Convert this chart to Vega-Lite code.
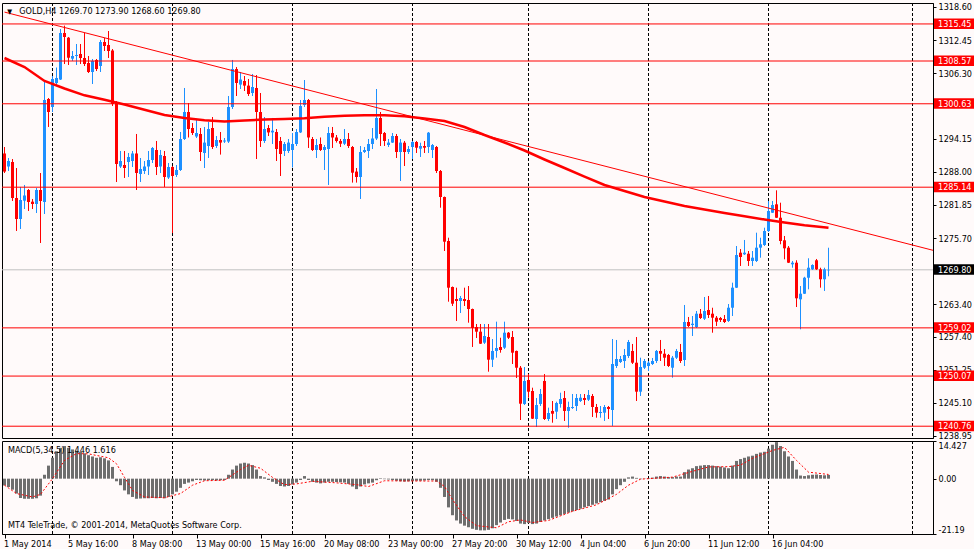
{
  "$schema": "https://vega.github.io/schema/vega-lite/v6.json",
  "background": "#fffafa",
  "padding": {"left": 1, "top": 2, "right": 0, "bottom": 0},
  "spacing": 3,
  "bounds": "flush",
  "config": {
    "view": {"stroke": "#000000", "strokeWidth": 1},
    "font": "DejaVu Sans Condensed, Liberation Sans, sans-serif",
    "axis": {"labelFont": "DejaVu Sans Condensed, Liberation Sans, sans-serif", "labelFontSize": 9, "labelColor": "#000000", "domainColor": "#000000", "tickColor": "#000000", "grid": false, "zindex": 1, "labelOverlap": false}
  },
  "datasets": {
    "candles": [
      {"i":0,"o":1291.40,"h":1292.60,"l":1287.77,"c":1288.04},
      {"i":1,"o":1288.98,"h":1290.56,"l":1288.15,"c":1290.00},
      {"i":2,"o":1289.82,"h":1290.37,"l":1282.58,"c":1283.13},
      {"i":3,"o":1283.13,"h":1288.70,"l":1277.01,"c":1279.23},
      {"i":4,"o":1279.23,"h":1285.18,"l":1277.38,"c":1282.76},
      {"i":5,"o":1282.63,"h":1285.55,"l":1281.09,"c":1283.60},
      {"i":6,"o":1284.62,"h":1284.80,"l":1280.72,"c":1282.39},
      {"i":7,"o":1282.45,"h":1282.95,"l":1281.09,"c":1282.02},
      {"i":8,"o":1282.02,"h":1284.99,"l":1280.35,"c":1284.62},
      {"i":9,"o":1284.62,"h":1287.77,"l":1274.78,"c":1282.58},
      {"i":10,"o":1282.39,"h":1304.86,"l":1280.16,"c":1301.33},
      {"i":11,"o":1301.51,"h":1301.70,"l":1296.32,"c":1299.10},
      {"i":12,"o":1300.03,"h":1305.78,"l":1299.10,"c":1305.23},
      {"i":13,"o":1304.49,"h":1307.36,"l":1304.11,"c":1305.41},
      {"i":14,"o":1305.13,"h":1314.51,"l":1305.04,"c":1313.77},
      {"i":15,"o":1313.77,"h":1315.14,"l":1308.01,"c":1313.03},
      {"i":16,"o":1312.90,"h":1313.03,"l":1307.83,"c":1309.18},
      {"i":17,"o":1309.00,"h":1310.43,"l":1308.57,"c":1309.50},
      {"i":18,"o":1309.50,"h":1311.73,"l":1307.83,"c":1309.68},
      {"i":19,"o":1309.87,"h":1311.73,"l":1308.01,"c":1309.13},
      {"i":20,"o":1309.13,"h":1313.77,"l":1307.64,"c":1308.01},
      {"i":21,"o":1308.20,"h":1309.50,"l":1306.34,"c":1306.53},
      {"i":22,"o":1306.53,"h":1308.94,"l":1304.30,"c":1308.57},
      {"i":23,"o":1308.76,"h":1308.94,"l":1306.71,"c":1307.08},
      {"i":24,"o":1307.64,"h":1312.47,"l":1306.53,"c":1312.10},
      {"i":25,"o":1312.10,"h":1312.84,"l":1310.43,"c":1311.36},
      {"i":26,"o":1311.54,"h":1314.14,"l":1309.13,"c":1310.43},
      {"i":27,"o":1310.52,"h":1310.80,"l":1300.21,"c":1300.59},
      {"i":28,"o":1300.77,"h":1301.14,"l":1286.10,"c":1289.45},
      {"i":29,"o":1288.98,"h":1291.86,"l":1288.70,"c":1290.00},
      {"i":30,"o":1289.26,"h":1291.86,"l":1286.85,"c":1288.70},
      {"i":31,"o":1289.82,"h":1291.49,"l":1287.03,"c":1290.75},
      {"i":32,"o":1290.00,"h":1291.86,"l":1288.89,"c":1291.40},
      {"i":33,"o":1291.40,"h":1295.02,"l":1284.62,"c":1287.77},
      {"i":34,"o":1287.59,"h":1290.56,"l":1286.10,"c":1288.52},
      {"i":35,"o":1288.15,"h":1290.00,"l":1287.59,"c":1288.98},
      {"i":36,"o":1288.98,"h":1291.86,"l":1287.40,"c":1290.19},
      {"i":37,"o":1290.19,"h":1292.60,"l":1289.63,"c":1292.42},
      {"i":38,"o":1292.05,"h":1293.72,"l":1287.40,"c":1288.89},
      {"i":39,"o":1288.98,"h":1292.05,"l":1287.77,"c":1291.12},
      {"i":40,"o":1290.93,"h":1291.86,"l":1285.18,"c":1287.03},
      {"i":41,"o":1286.94,"h":1289.63,"l":1286.66,"c":1288.89},
      {"i":42,"o":1288.89,"h":1289.07,"l":1276.63,"c":1287.22},
      {"i":43,"o":1287.40,"h":1289.26,"l":1287.03,"c":1288.33},
      {"i":44,"o":1288.33,"h":1295.39,"l":1288.15,"c":1294.09},
      {"i":45,"o":1294.09,"h":1303.56,"l":1293.90,"c":1299.10},
      {"i":46,"o":1299.10,"h":1300.77,"l":1294.37,"c":1295.94},
      {"i":47,"o":1296.13,"h":1297.06,"l":1294.83,"c":1295.20},
      {"i":48,"o":1294.55,"h":1297.80,"l":1294.27,"c":1295.20},
      {"i":49,"o":1295.02,"h":1296.13,"l":1290.00,"c":1291.67},
      {"i":50,"o":1291.49,"h":1296.32,"l":1288.70,"c":1293.42},
      {"i":51,"o":1292.79,"h":1297.24,"l":1290.56,"c":1295.94},
      {"i":52,"o":1296.13,"h":1298.17,"l":1292.23,"c":1292.60},
      {"i":53,"o":1292.79,"h":1294.64,"l":1292.42,"c":1293.90},
      {"i":54,"o":1293.90,"h":1295.39,"l":1291.19,"c":1293.42},
      {"i":55,"o":1293.62,"h":1294.27,"l":1293.35,"c":1293.81},
      {"i":56,"o":1293.61,"h":1302.07,"l":1293.35,"c":1300.03},
      {"i":57,"o":1300.03,"h":1308.76,"l":1299.66,"c":1307.08},
      {"i":58,"o":1307.08,"h":1307.45,"l":1302.07,"c":1304.49},
      {"i":59,"o":1304.19,"h":1306.53,"l":1303.37,"c":1305.13},
      {"i":60,"o":1304.86,"h":1305.78,"l":1303.00,"c":1304.00},
      {"i":61,"o":1304.00,"h":1305.23,"l":1302.07,"c":1302.44},
      {"i":62,"o":1302.63,"h":1306.16,"l":1302.07,"c":1303.74},
      {"i":63,"o":1303.56,"h":1305.97,"l":1290.37,"c":1299.10},
      {"i":64,"o":1299.10,"h":1302.63,"l":1292.60,"c":1293.72},
      {"i":65,"o":1293.72,"h":1298.17,"l":1293.35,"c":1295.94},
      {"i":66,"o":1296.13,"h":1296.69,"l":1294.64,"c":1295.31},
      {"i":67,"o":1295.31,"h":1297.99,"l":1293.16,"c":1295.63},
      {"i":68,"o":1295.39,"h":1295.94,"l":1290.00,"c":1292.23},
      {"i":69,"o":1293.72,"h":1294.46,"l":1287.22,"c":1291.30},
      {"i":70,"o":1291.86,"h":1293.53,"l":1290.93,"c":1293.16},
      {"i":71,"o":1291.86,"h":1294.09,"l":1291.49,"c":1293.42},
      {"i":72,"o":1292.05,"h":1295.20,"l":1288.80,"c":1293.16},
      {"i":73,"o":1293.16,"h":1295.94,"l":1292.79,"c":1295.39},
      {"i":74,"o":1295.31,"h":1301.33,"l":1295.20,"c":1300.21},
      {"i":75,"o":1300.40,"h":1305.04,"l":1300.03,"c":1301.33},
      {"i":76,"o":1301.33,"h":1301.51,"l":1292.42,"c":1294.37},
      {"i":77,"o":1294.09,"h":1294.46,"l":1291.86,"c":1292.05},
      {"i":78,"o":1292.05,"h":1294.09,"l":1290.56,"c":1292.97},
      {"i":79,"o":1293.16,"h":1294.37,"l":1291.86,"c":1292.05},
      {"i":80,"o":1292.05,"h":1292.97,"l":1288.33,"c":1292.60},
      {"i":81,"o":1292.23,"h":1296.32,"l":1285.55,"c":1295.20},
      {"i":82,"o":1295.20,"h":1296.32,"l":1292.42,"c":1294.37},
      {"i":83,"o":1294.37,"h":1294.83,"l":1293.42,"c":1293.72},
      {"i":84,"o":1293.72,"h":1294.09,"l":1292.60,"c":1293.21},
      {"i":85,"o":1293.21,"h":1295.94,"l":1292.97,"c":1294.09},
      {"i":86,"o":1294.09,"h":1295.20,"l":1292.42,"c":1292.79},
      {"i":87,"o":1292.60,"h":1292.79,"l":1285.99,"c":1287.83},
      {"i":88,"o":1288.04,"h":1288.70,"l":1285.99,"c":1287.03},
      {"i":89,"o":1287.03,"h":1292.79,"l":1282.95,"c":1291.67},
      {"i":90,"o":1291.67,"h":1292.60,"l":1291.49,"c":1292.05},
      {"i":91,"o":1291.86,"h":1294.09,"l":1290.56,"c":1293.16},
      {"i":92,"o":1293.16,"h":1296.13,"l":1292.23,"c":1294.18},
      {"i":93,"o":1294.18,"h":1303.37,"l":1293.90,"c":1297.99},
      {"i":94,"o":1297.99,"h":1299.10,"l":1292.79,"c":1295.02},
      {"i":95,"o":1295.20,"h":1295.39,"l":1292.79,"c":1293.72},
      {"i":96,"o":1292.97,"h":1294.09,"l":1292.60,"c":1293.42},
      {"i":97,"o":1293.42,"h":1295.20,"l":1293.35,"c":1294.64},
      {"i":98,"o":1294.64,"h":1295.02,"l":1290.56,"c":1291.67},
      {"i":99,"o":1291.67,"h":1294.09,"l":1286.29,"c":1293.42},
      {"i":100,"o":1293.40,"h":1293.72,"l":1289.07,"c":1291.67},
      {"i":101,"o":1291.67,"h":1292.79,"l":1291.30,"c":1292.23},
      {"i":102,"o":1292.60,"h":1293.72,"l":1290.37,"c":1293.53},
      {"i":103,"o":1293.53,"h":1293.72,"l":1291.49,"c":1292.47},
      {"i":104,"o":1292.29,"h":1293.40,"l":1290.75,"c":1292.79},
      {"i":105,"o":1292.79,"h":1293.72,"l":1291.49,"c":1292.47},
      {"i":106,"o":1292.60,"h":1295.39,"l":1291.49,"c":1295.26},
      {"i":107,"o":1292.05,"h":1293.16,"l":1290.56,"c":1292.97},
      {"i":108,"o":1292.60,"h":1292.79,"l":1287.77,"c":1288.15},
      {"i":109,"o":1288.15,"h":1288.33,"l":1281.33,"c":1283.32},
      {"i":110,"o":1283.32,"h":1283.40,"l":1273.29,"c":1275.02},
      {"i":111,"o":1275.15,"h":1275.76,"l":1263.88,"c":1266.48},
      {"i":112,"o":1266.61,"h":1266.70,"l":1263.08,"c":1263.51},
      {"i":113,"o":1264.38,"h":1266.48,"l":1260.30,"c":1264.01},
      {"i":114,"o":1264.01,"h":1264.94,"l":1261.78,"c":1264.57},
      {"i":115,"o":1264.38,"h":1266.48,"l":1263.08,"c":1264.01},
      {"i":116,"o":1264.19,"h":1266.79,"l":1259.98,"c":1262.52},
      {"i":117,"o":1262.52,"h":1262.60,"l":1255.47,"c":1259.00},
      {"i":118,"o":1259.18,"h":1259.74,"l":1257.14,"c":1258.31},
      {"i":119,"o":1258.31,"h":1259.74,"l":1256.03,"c":1256.08},
      {"i":120,"o":1256.27,"h":1259.74,"l":1256.03,"c":1257.51},
      {"i":121,"o":1257.32,"h":1259.74,"l":1250.88,"c":1253.11},
      {"i":122,"o":1253.11,"h":1256.95,"l":1251.75,"c":1254.73},
      {"i":123,"o":1254.73,"h":1260.17,"l":1253.48,"c":1255.28},
      {"i":124,"o":1255.47,"h":1257.19,"l":1254.41,"c":1254.91},
      {"i":125,"o":1255.34,"h":1260.17,"l":1255.10,"c":1258.12},
      {"i":126,"o":1258.12,"h":1258.25,"l":1256.95,"c":1257.19},
      {"i":127,"o":1257.32,"h":1258.44,"l":1252.31,"c":1254.41},
      {"i":128,"o":1254.73,"h":1254.80,"l":1249.71,"c":1251.62},
      {"i":129,"o":1251.62,"h":1251.94,"l":1241.91,"c":1244.94},
      {"i":130,"o":1244.89,"h":1251.75,"l":1244.70,"c":1249.16},
      {"i":131,"o":1249.34,"h":1250.45,"l":1246.05,"c":1247.17},
      {"i":132,"o":1247.30,"h":1247.91,"l":1242.10,"c":1242.16},
      {"i":133,"o":1242.10,"h":1246.00,"l":1240.61,"c":1244.70},
      {"i":134,"o":1244.89,"h":1247.67,"l":1244.51,"c":1246.74},
      {"i":135,"o":1249.16,"h":1250.45,"l":1241.91,"c":1242.10},
      {"i":136,"o":1242.10,"h":1244.20,"l":1241.73,"c":1243.21},
      {"i":137,"o":1243.59,"h":1245.44,"l":1241.41,"c":1243.08},
      {"i":138,"o":1243.46,"h":1245.31,"l":1242.10,"c":1245.07},
      {"i":139,"o":1244.89,"h":1246.98,"l":1244.20,"c":1245.81},
      {"i":140,"o":1246.00,"h":1247.30,"l":1241.73,"c":1243.59},
      {"i":141,"o":1243.59,"h":1245.31,"l":1240.48,"c":1244.33},
      {"i":142,"o":1244.14,"h":1246.74,"l":1243.96,"c":1244.33},
      {"i":143,"o":1244.51,"h":1246.74,"l":1243.59,"c":1246.00},
      {"i":144,"o":1245.44,"h":1246.74,"l":1245.26,"c":1246.05},
      {"i":145,"o":1246.00,"h":1246.74,"l":1244.70,"c":1245.63},
      {"i":146,"o":1245.68,"h":1247.48,"l":1245.44,"c":1246.56},
      {"i":147,"o":1246.37,"h":1246.74,"l":1242.47,"c":1244.33},
      {"i":148,"o":1244.33,"h":1244.89,"l":1242.34,"c":1243.27},
      {"i":149,"o":1243.21,"h":1244.51,"l":1242.34,"c":1243.40},
      {"i":150,"o":1243.27,"h":1244.70,"l":1241.73,"c":1244.33},
      {"i":151,"o":1244.33,"h":1244.51,"l":1242.10,"c":1243.96},
      {"i":152,"o":1243.77,"h":1256.95,"l":1240.80,"c":1252.31},
      {"i":153,"o":1251.94,"h":1256.77,"l":1251.57,"c":1253.24},
      {"i":154,"o":1252.68,"h":1253.80,"l":1252.50,"c":1253.24},
      {"i":155,"o":1252.87,"h":1255.10,"l":1251.57,"c":1253.98},
      {"i":156,"o":1253.80,"h":1256.77,"l":1253.43,"c":1256.40},
      {"i":157,"o":1254.73,"h":1256.03,"l":1252.31,"c":1252.55},
      {"i":158,"o":1252.55,"h":1257.32,"l":1245.44,"c":1247.17},
      {"i":159,"o":1247.17,"h":1253.48,"l":1246.37,"c":1251.75},
      {"i":160,"o":1251.62,"h":1253.24,"l":1251.38,"c":1252.87},
      {"i":161,"o":1251.94,"h":1252.87,"l":1251.01,"c":1252.55},
      {"i":162,"o":1252.31,"h":1253.43,"l":1252.13,"c":1252.87},
      {"i":163,"o":1252.87,"h":1254.91,"l":1252.50,"c":1254.73},
      {"i":164,"o":1254.73,"h":1256.77,"l":1252.87,"c":1254.22},
      {"i":165,"o":1254.22,"h":1255.10,"l":1251.94,"c":1253.48},
      {"i":166,"o":1253.98,"h":1254.17,"l":1251.75,"c":1251.94},
      {"i":167,"o":1251.62,"h":1253.80,"l":1249.77,"c":1253.48},
      {"i":168,"o":1253.48,"h":1255.10,"l":1253.24,"c":1254.73},
      {"i":169,"o":1254.54,"h":1256.03,"l":1252.50,"c":1252.87},
      {"i":170,"o":1253.05,"h":1263.27,"l":1251.94,"c":1260.11},
      {"i":171,"o":1260.11,"h":1261.04,"l":1259.18,"c":1259.37},
      {"i":172,"o":1259.55,"h":1261.22,"l":1257.51,"c":1259.79},
      {"i":173,"o":1259.18,"h":1262.15,"l":1259.00,"c":1261.65},
      {"i":174,"o":1261.65,"h":1262.52,"l":1260.67,"c":1260.85},
      {"i":175,"o":1260.72,"h":1264.75,"l":1260.48,"c":1262.15},
      {"i":176,"o":1262.34,"h":1264.94,"l":1260.85,"c":1261.41},
      {"i":177,"o":1261.65,"h":1262.76,"l":1258.12,"c":1260.91},
      {"i":178,"o":1260.91,"h":1261.22,"l":1259.37,"c":1260.17},
      {"i":179,"o":1260.85,"h":1261.04,"l":1260.11,"c":1260.48},
      {"i":180,"o":1260.67,"h":1261.41,"l":1259.92,"c":1260.11},
      {"i":181,"o":1260.30,"h":1263.45,"l":1260.11,"c":1262.76},
      {"i":182,"o":1262.76,"h":1267.41,"l":1261.22,"c":1266.48},
      {"i":183,"o":1266.48,"h":1274.22,"l":1266.42,"c":1272.55},
      {"i":184,"o":1272.98,"h":1273.66,"l":1270.51,"c":1272.18},
      {"i":185,"o":1272.68,"h":1275.34,"l":1272.55,"c":1272.98},
      {"i":186,"o":1272.79,"h":1273.29,"l":1270.51,"c":1271.44},
      {"i":187,"o":1271.44,"h":1273.29,"l":1270.51,"c":1272.05},
      {"i":188,"o":1271.44,"h":1276.69,"l":1271.25,"c":1273.91},
      {"i":189,"o":1273.91,"h":1275.76,"l":1272.05,"c":1274.54},
      {"i":190,"o":1274.41,"h":1277.62,"l":1274.22,"c":1277.01},
      {"i":191,"o":1277.01,"h":1282.58,"l":1276.82,"c":1280.72},
      {"i":192,"o":1280.40,"h":1282.58,"l":1280.35,"c":1281.83},
      {"i":193,"o":1281.96,"h":1284.56,"l":1279.42,"c":1279.47},
      {"i":194,"o":1279.47,"h":1282.26,"l":1274.54,"c":1275.15},
      {"i":195,"o":1275.28,"h":1276.08,"l":1271.75,"c":1273.79},
      {"i":196,"o":1273.91,"h":1274.22,"l":1271.06,"c":1271.12},
      {"i":197,"o":1270.82,"h":1271.44,"l":1270.19,"c":1271.12},
      {"i":198,"o":1271.12,"h":1271.57,"l":1262.89,"c":1264.51},
      {"i":199,"o":1264.32,"h":1266.79,"l":1258.75,"c":1265.36},
      {"i":200,"o":1265.36,"h":1268.50,"l":1265.31,"c":1268.33},
      {"i":201,"o":1268.33,"h":1271.94,"l":1266.18,"c":1270.19},
      {"i":202,"o":1269.89,"h":1270.82,"l":1269.77,"c":1270.69},
      {"i":203,"o":1271.57,"h":1271.81,"l":1269.77,"c":1269.89},
      {"i":204,"o":1269.89,"h":1270.19,"l":1266.48,"c":1268.04},
      {"i":205,"o":1268.04,"h":1270.19,"l":1265.87,"c":1269.89},
      {"i":206,"o":1269.70,"h":1273.90,"l":1268.60,"c":1269.80}
    ],
    "ma": [
      {"i":0,"v":1309.13},{"i":5,"v":1307.45},{"i":10,"v":1304.86},{"i":15,"v":1303.46},
      {"i":20,"v":1302.20},{"i":25,"v":1301.38},{"i":30,"v":1300.49},{"i":35,"v":1299.53},
      {"i":40,"v":1298.54},{"i":45,"v":1297.99},{"i":50,"v":1297.58},{"i":55,"v":1297.34},
      {"i":60,"v":1297.52},{"i":65,"v":1297.71},{"i":70,"v":1297.80},{"i":75,"v":1297.93},
      {"i":80,"v":1298.23},{"i":85,"v":1298.39},{"i":90,"v":1298.49},{"i":95,"v":1298.49},
      {"i":100,"v":1298.30},{"i":105,"v":1297.89},{"i":110,"v":1297.43},{"i":115,"v":1296.32},
      {"i":120,"v":1294.83},{"i":125,"v":1293.44},{"i":130,"v":1291.95},{"i":135,"v":1290.28},
      {"i":140,"v":1288.70},{"i":145,"v":1287.12},{"i":150,"v":1285.55},{"i":155,"v":1284.43},
      {"i":160,"v":1283.32},{"i":165,"v":1282.48},{"i":170,"v":1281.65},{"i":175,"v":1281.00},
      {"i":180,"v":1280.35},{"i":185,"v":1279.74},{"i":190,"v":1279.14},{"i":195,"v":1278.58},
      {"i":200,"v":1278.07},{"i":206,"v":1277.62}
    ],
    "trend": [{"i":0,"v":1317.65},{"i":232.125,"v":1273.42}],
    "levels": [{"p":1315.45},{"p":1308.57},{"p":1300.63},{"p":1285.14},{"p":1259.02},{"p":1250.07},{"p":1240.76}],
    "last": [{"p":1269.80}],
    "seps": [{"i":12},{"i":42},{"i":72},{"i":102},{"i":131},{"i":161},{"i":191},{"i":227}],
    "macd": [
      {"i":0,"m":-2.6},{"i":1,"m":-3.2},{"i":2,"m":-4.2},{"i":3,"m":-5.7},{"i":4,"m":-7.4},{"i":5,"m":-7.7},{"i":6,"m":-7.7},{"i":7,"m":-7.7},{"i":8,"m":-7.5},{"i":9,"m":-6.5},
      {"i":10,"m":1.5},{"i":11,"m":5.0},{"i":12,"m":8.0},{"i":13,"m":10.5},{"i":14,"m":11.8},{"i":15,"m":12.5},{"i":16,"m":11.8},{"i":17,"m":11.2},{"i":18,"m":10.7},{"i":19,"m":10.2},
      {"i":20,"m":9.7},{"i":21,"m":9.0},{"i":22,"m":8.5},{"i":23,"m":8.0},{"i":24,"m":8.2},{"i":25,"m":7.8},{"i":26,"m":7.0},{"i":27,"m":4.5},{"i":28,"m":-1.0},{"i":29,"m":-2.5},
      {"i":30,"m":-4.5},{"i":31,"m":-6.0},{"i":32,"m":-7.0},{"i":33,"m":-7.7},{"i":34,"m":-7.6},{"i":35,"m":-7.5},{"i":36,"m":-7.5},{"i":37,"m":-7.4},{"i":38,"m":-7.5},{"i":39,"m":-7.4},
      {"i":40,"m":-7.5},{"i":41,"m":-7.0},{"i":42,"m":-6.0},{"i":43,"m":-5.0},{"i":44,"m":-3.5},{"i":45,"m":-2.0},{"i":46,"m":-1.5},{"i":47,"m":-1.0},{"i":48,"m":-0.5},{"i":49,"m":-0.6},
      {"i":50,"m":-0.7},{"i":51,"m":-0.6},{"i":52,"m":-0.6},{"i":53,"m":-0.7},{"i":54,"m":-0.6},{"i":55,"m":-0.5},{"i":56,"m":1.5},{"i":57,"m":3.5},{"i":58,"m":5.0},{"i":59,"m":5.8},
      {"i":60,"m":6.1},{"i":61,"m":5.8},{"i":62,"m":5.2},{"i":63,"m":3.5},{"i":64,"m":1.0},{"i":65,"m":0.5},{"i":66,"m":-0.5},{"i":67,"m":-1.2},{"i":68,"m":-2.0},{"i":69,"m":-2.8},
      {"i":70,"m":-3.0},{"i":71,"m":-2.8},{"i":72,"m":-2.2},{"i":73,"m":-1.5},{"i":74,"m":-0.5},{"i":75,"m":1.0},{"i":76,"m":-0.5},{"i":77,"m":-1.2},{"i":78,"m":-1.5},{"i":79,"m":-1.8},
      {"i":80,"m":-1.5},{"i":81,"m":-1.2},{"i":82,"m":-1.2},{"i":83,"m":-1.3},{"i":84,"m":-1.4},{"i":85,"m":-1.5},{"i":86,"m":-2.0},{"i":87,"m":-3.0},{"i":88,"m":-4.0},{"i":89,"m":-3.0},
      {"i":90,"m":-2.2},{"i":91,"m":-1.8},{"i":92,"m":-1.5},{"i":93,"m":-0.6},{"i":94,"m":0.2},{"i":95,"m":-0.2},{"i":96,"m":-0.3},{"i":97,"m":-0.5},{"i":98,"m":-0.8},{"i":99,"m":-1.0},
      {"i":100,"m":-1.1},{"i":101,"m":-1.0},{"i":102,"m":-0.9},{"i":103,"m":-0.8},{"i":104,"m":-0.8},{"i":105,"m":-0.7},{"i":106,"m":-0.5},{"i":107,"m":-0.6},{"i":108,"m":-1.2},{"i":109,"m":-3.5},
      {"i":110,"m":-7.0},{"i":111,"m":-11.0},{"i":112,"m":-14.0},{"i":113,"m":-16.0},{"i":114,"m":-17.2},{"i":115,"m":-18.0},{"i":116,"m":-18.6},{"i":117,"m":-19.2},{"i":118,"m":-19.6},{"i":119,"m":-19.8},
      {"i":120,"m":-19.8},{"i":121,"m":-19.6},{"i":122,"m":-19.0},{"i":123,"m":-17.8},{"i":124,"m":-16.8},{"i":125,"m":-15.8},{"i":126,"m":-15.4},{"i":127,"m":-15.6},{"i":128,"m":-16.2},{"i":129,"m":-17.2},
      {"i":130,"m":-17.4},{"i":131,"m":-17.0},{"i":132,"m":-17.4},{"i":133,"m":-17.2},{"i":134,"m":-16.6},{"i":135,"m":-16.0},{"i":136,"m":-15.5},{"i":137,"m":-15.0},{"i":138,"m":-14.5},{"i":139,"m":-14.0},
      {"i":140,"m":-13.5},{"i":141,"m":-13.0},{"i":142,"m":-12.5},{"i":143,"m":-12.0},{"i":144,"m":-11.5},{"i":145,"m":-11.0},{"i":146,"m":-10.5},{"i":147,"m":-10.0},{"i":148,"m":-9.5},{"i":149,"m":-9.0},
      {"i":150,"m":-8.5},{"i":151,"m":-8.0},{"i":152,"m":-6.0},{"i":153,"m":-4.0},{"i":154,"m":-2.5},{"i":155,"m":-1.2},{"i":156,"m":0.5},{"i":157,"m":0.8},{"i":158,"m":0.3},{"i":159,"m":-0.2},
      {"i":160,"m":0.1},{"i":161,"m":0.2},{"i":162,"m":0.4},{"i":163,"m":0.8},{"i":164,"m":1.0},{"i":165,"m":0.8},{"i":166,"m":0.6},{"i":167,"m":0.6},{"i":168,"m":0.8},{"i":169,"m":0.8},
      {"i":170,"m":2.5},{"i":171,"m":3.5},{"i":172,"m":4.0},{"i":173,"m":4.8},{"i":174,"m":5.0},{"i":175,"m":5.2},{"i":176,"m":5.2},{"i":177,"m":5.0},{"i":178,"m":4.8},{"i":179,"m":4.6},
      {"i":180,"m":4.3},{"i":181,"m":4.0},{"i":182,"m":5.0},{"i":183,"m":6.8},{"i":184,"m":7.5},{"i":185,"m":8.0},{"i":186,"m":8.5},{"i":187,"m":8.8},{"i":188,"m":9.5},{"i":189,"m":10.0},
      {"i":190,"m":10.3},{"i":191,"m":11.5},{"i":192,"m":13.0},{"i":193,"m":14.0},{"i":194,"m":12.5},{"i":195,"m":10.5},{"i":196,"m":8.5},{"i":197,"m":6.8},{"i":198,"m":3.5},{"i":199,"m":1.2},
      {"i":200,"m":1.0},{"i":201,"m":1.3},{"i":202,"m":1.5},{"i":203,"m":1.6},{"i":204,"m":1.4},{"i":205,"m":1.3},{"i":206,"m":1.446}
    ],
    "signal": [
      {"i":0,"s":-2.5},{"i":3,"s":-5.7},{"i":7,"s":-7.0},{"i":9,"s":-6.0},{"i":12,"s":0.0},{"i":15,"s":7.0},
      {"i":18,"s":9.6},{"i":21,"s":9.5},{"i":26,"s":8.0},{"i":28,"s":5.7},{"i":30,"s":0.5},{"i":32,"s":-4.5},
      {"i":35,"s":-7.0},{"i":40,"s":-7.3},{"i":44,"s":-5.7},{"i":47,"s":-2.5},{"i":50,"s":-0.8},{"i":55,"s":-0.6},
      {"i":59,"s":3.5},{"i":61,"s":5.1},{"i":64,"s":4.0},{"i":67,"s":0.5},{"i":70,"s":-2.3},{"i":73,"s":-2.0},
      {"i":77,"s":-1.0},{"i":83,"s":-1.6},{"i":88,"s":-2.3},{"i":91,"s":-3.0},{"i":95,"s":-0.8},{"i":101,"s":-0.9},
      {"i":108,"s":-0.9},{"i":110,"s":-3.0},{"i":112,"s":-8.0},{"i":115,"s":-14.5},{"i":118,"s":-18.0},{"i":123,"s":-18.8},
      {"i":126,"s":-16.5},{"i":129,"s":-15.8},{"i":132,"s":-16.8},{"i":136,"s":-16.0},{"i":142,"s":-12.5},{"i":148,"s":-10.0},
      {"i":153,"s":-6.0},{"i":156,"s":-2.5},{"i":159,"s":-0.2},{"i":167,"s":0.6},{"i":172,"s":2.8},{"i":176,"s":4.5},
      {"i":181,"s":4.6},{"i":184,"s":5.2},{"i":187,"s":7.8},{"i":192,"s":10.8},{"i":195,"s":12.0},{"i":198,"s":7.0},
      {"i":201,"s":2.5},{"i":206,"s":1.616}
    ]
  },
  "vconcat": [
    {
      "width": 931,
      "height": 435,
      "layer": [
        {
          "data": {"name": "seps"},
          "mark": {"type": "rule", "color": "#000000", "strokeWidth": 1, "strokeDash": [3, 2]},
          "encoding": {
            "x": {"field": "i", "type": "quantitative", "scale": {"domain": [-0.625, 232.125], "nice": false, "zero": false, "padding": 0}, "axis": null}
          }
        },
        {
          "data": {"name": "last"},
          "mark": {"type": "rule", "color": "#c0c0c0", "strokeWidth": 1},
          "encoding": {
            "y": {"field": "p", "type": "quantitative", "scale": {"domain": [1238.57, 1319.34], "nice": false, "zero": false},
              "axis": {"orient": "right", "title": null, "values": [1318.6, 1312.45, 1306.3, 1294.15, 1288, 1281.85, 1275.7, 1263.4, 1257.4, 1251.25, 1245.1, 1238.95], "format": ".2f", "tickSize": 3, "labelPadding": 2, "labelOverlap": false, "labelFlush": false, "labelBound": false}}
          }
        },
        {
          "data": {"name": "candles"},
          "mark": {"type": "rule", "strokeWidth": 1},
          "encoding": {
            "x": {"field": "i", "type": "quantitative", "scale": {"domain": [-0.625, 232.125], "nice": false, "zero": false, "padding": 0}, "axis": null},
            "y": {"field": "l", "type": "quantitative", "scale": {"domain": [1238.57, 1319.34], "nice": false, "zero": false},
              "axis": {"orient": "right", "title": null, "values": [1318.6, 1312.45, 1306.3, 1294.15, 1288, 1281.85, 1275.7, 1263.4, 1257.4, 1251.25, 1245.1, 1238.95], "format": ".2f", "tickSize": 3, "labelPadding": 2, "labelOverlap": false, "labelFlush": false, "labelBound": false}},
            "y2": {"field": "h"},
            "color": {"condition": {"test": "datum.c >= datum.o", "value": "#1e90ff"}, "value": "#ff0000"}
          }
        },
        {
          "data": {"name": "candles"},
          "mark": {"type": "bar", "size": 3},
          "encoding": {
            "x": {"field": "i", "type": "quantitative", "scale": {"domain": [-0.625, 232.125], "nice": false, "zero": false, "padding": 0}, "axis": null},
            "y": {"field": "o", "type": "quantitative", "scale": {"domain": [1238.57, 1319.34], "nice": false, "zero": false},
              "axis": {"orient": "right", "title": null, "values": [1318.6, 1312.45, 1306.3, 1294.15, 1288, 1281.85, 1275.7, 1263.4, 1257.4, 1251.25, 1245.1, 1238.95], "format": ".2f", "tickSize": 3, "labelPadding": 2, "labelOverlap": false, "labelFlush": false, "labelBound": false}},
            "y2": {"field": "c"},
            "color": {"condition": {"test": "datum.c >= datum.o", "value": "#1e90ff"}, "value": "#ff0000"}
          }
        },
        {
          "data": {"name": "ma"},
          "mark": {"type": "line", "color": "#ff0000", "strokeWidth": 2.5, "clip": true},
          "encoding": {
            "x": {"field": "i", "type": "quantitative", "scale": {"domain": [-0.625, 232.125], "nice": false, "zero": false, "padding": 0}, "axis": null},
            "y": {"field": "v", "type": "quantitative", "scale": {"domain": [1238.57, 1319.34], "nice": false, "zero": false},
              "axis": {"orient": "right", "title": null, "values": [1318.6, 1312.45, 1306.3, 1294.15, 1288, 1281.85, 1275.7, 1263.4, 1257.4, 1251.25, 1245.1, 1238.95], "format": ".2f", "tickSize": 3, "labelPadding": 2, "labelOverlap": false, "labelFlush": false, "labelBound": false}}
          }
        },
        {
          "data": {"name": "levels"},
          "mark": {"type": "rule", "color": "#ff0000", "strokeWidth": 1},
          "encoding": {
            "y": {"field": "p", "type": "quantitative", "scale": {"domain": [1238.57, 1319.34], "nice": false, "zero": false},
              "axis": {"orient": "right", "title": null, "values": [1318.6, 1312.45, 1306.3, 1294.15, 1288, 1281.85, 1275.7, 1263.4, 1257.4, 1251.25, 1245.1, 1238.95], "format": ".2f", "tickSize": 3, "labelPadding": 2, "labelOverlap": false, "labelFlush": false, "labelBound": false}}
          }
        },
        {
          "data": {"name": "trend"},
          "mark": {"type": "line", "color": "#ff0000", "strokeWidth": 1, "clip": true},
          "encoding": {
            "x": {"field": "i", "type": "quantitative", "scale": {"domain": [-0.625, 232.125], "nice": false, "zero": false, "padding": 0}, "axis": null},
            "y": {"field": "v", "type": "quantitative", "scale": {"domain": [1238.57, 1319.34], "nice": false, "zero": false},
              "axis": {"orient": "right", "title": null, "values": [1318.6, 1312.45, 1306.3, 1294.15, 1288, 1281.85, 1275.7, 1263.4, 1257.4, 1251.25, 1245.1, 1238.95], "format": ".2f", "tickSize": 3, "labelPadding": 2, "labelOverlap": false, "labelFlush": false, "labelBound": false}}
          }
        },
        {
          "data": {"name": "levels"},
          "mark": {"type": "rect", "color": "#ff0000", "yOffset": -5.5, "y2Offset": 5},
          "encoding": {
            "x": {"datum": 232.375, "type": "quantitative", "scale": {"domain": [-0.625, 232.125], "nice": false, "zero": false, "padding": 0}, "axis": null},
            "x2": {"datum": 242.75},
            "y": {"field": "p", "type": "quantitative", "scale": {"domain": [1238.57, 1319.34], "nice": false, "zero": false},
              "axis": {"orient": "right", "title": null, "values": [1318.6, 1312.45, 1306.3, 1294.15, 1288, 1281.85, 1275.7, 1263.4, 1257.4, 1251.25, 1245.1, 1238.95], "format": ".2f", "tickSize": 3, "labelPadding": 2, "labelOverlap": false, "labelFlush": false, "labelBound": false}},
            "y2": {"field": "p"}
          }
        },
        {
          "data": {"name": "last"},
          "mark": {"type": "rect", "color": "#000000", "yOffset": -5.5, "y2Offset": 5},
          "encoding": {
            "x": {"datum": 232.375, "type": "quantitative", "scale": {"domain": [-0.625, 232.125], "nice": false, "zero": false, "padding": 0}, "axis": null},
            "x2": {"datum": 242.75},
            "y": {"field": "p", "type": "quantitative", "scale": {"domain": [1238.57, 1319.34], "nice": false, "zero": false},
              "axis": {"orient": "right", "title": null, "values": [1318.6, 1312.45, 1306.3, 1294.15, 1288, 1281.85, 1275.7, 1263.4, 1257.4, 1251.25, 1245.1, 1238.95], "format": ".2f", "tickSize": 3, "labelPadding": 2, "labelOverlap": false, "labelFlush": false, "labelBound": false}},
            "y2": {"field": "p"}
          }
        },
        {
          "data": {"name": "levels"},
          "mark": {"type": "text", "color": "#ffffff", "align": "left", "baseline": "middle", "fontSize": 9},
          "encoding": {
            "x": {"datum": 233.375, "type": "quantitative", "scale": {"domain": [-0.625, 232.125], "nice": false, "zero": false, "padding": 0}, "axis": null},
            "y": {"field": "p", "type": "quantitative", "scale": {"domain": [1238.57, 1319.34], "nice": false, "zero": false},
              "axis": {"orient": "right", "title": null, "values": [1318.6, 1312.45, 1306.3, 1294.15, 1288, 1281.85, 1275.7, 1263.4, 1257.4, 1251.25, 1245.1, 1238.95], "format": ".2f", "tickSize": 3, "labelPadding": 2, "labelOverlap": false, "labelFlush": false, "labelBound": false}},
            "text": {"field": "p", "type": "quantitative", "format": ".2f"}
          }
        },
        {
          "data": {"name": "last"},
          "mark": {"type": "text", "color": "#ffffff", "align": "left", "baseline": "middle", "fontSize": 9},
          "encoding": {
            "x": {"datum": 233.375, "type": "quantitative", "scale": {"domain": [-0.625, 232.125], "nice": false, "zero": false, "padding": 0}, "axis": null},
            "y": {"field": "p", "type": "quantitative", "scale": {"domain": [1238.57, 1319.34], "nice": false, "zero": false},
              "axis": {"orient": "right", "title": null, "values": [1318.6, 1312.45, 1306.3, 1294.15, 1288, 1281.85, 1275.7, 1263.4, 1257.4, 1251.25, 1245.1, 1238.95], "format": ".2f", "tickSize": 3, "labelPadding": 2, "labelOverlap": false, "labelFlush": false, "labelBound": false}},
            "text": {"field": "p", "type": "quantitative", "format": ".2f"}
          }
        },
        {
          "data": {"values": [{"t": "▼", "i": 1.3, "p": 1317.6}]},
          "mark": {"type": "text", "color": "#000000", "align": "center", "baseline": "middle", "fontSize": 7},
          "encoding": {
            "x": {"field": "i", "type": "quantitative", "scale": {"domain": [-0.625, 232.125], "nice": false, "zero": false, "padding": 0}, "axis": null},
            "y": {"field": "p", "type": "quantitative", "scale": {"domain": [1238.57, 1319.34], "nice": false, "zero": false},
              "axis": {"orient": "right", "title": null, "values": [1318.6, 1312.45, 1306.3, 1294.15, 1288, 1281.85, 1275.7, 1263.4, 1257.4, 1251.25, 1245.1, 1238.95], "format": ".2f", "tickSize": 3, "labelPadding": 2, "labelOverlap": false, "labelFlush": false, "labelBound": false}},
            "text": {"field": "t"}
          }
        },
        {
          "data": {"values": [{"t": "GOLD,H4  1269.70 1273.90 1268.60 1269.80", "i": 3.7, "p": 1317.85}]},
          "mark": {"type": "text", "color": "#000000", "align": "left", "baseline": "middle", "fontSize": 9},
          "encoding": {
            "x": {"field": "i", "type": "quantitative", "scale": {"domain": [-0.625, 232.125], "nice": false, "zero": false, "padding": 0}, "axis": null},
            "y": {"field": "p", "type": "quantitative", "scale": {"domain": [1238.57, 1319.34], "nice": false, "zero": false},
              "axis": {"orient": "right", "title": null, "values": [1318.6, 1312.45, 1306.3, 1294.15, 1288, 1281.85, 1275.7, 1263.4, 1257.4, 1251.25, 1245.1, 1238.95], "format": ".2f", "tickSize": 3, "labelPadding": 2, "labelOverlap": false, "labelFlush": false, "labelBound": false}},
            "text": {"field": "t"}
          }
        }
      ]
    },
    {
      "width": 931,
      "height": 93,
      "layer": [
        {
          "data": {"name": "seps"},
          "mark": {"type": "rule", "color": "#000000", "strokeWidth": 1, "strokeDash": [3, 2]},
          "encoding": {
            "x": {"field": "i", "type": "quantitative", "scale": {"domain": [-0.625, 232.125], "nice": false, "zero": false, "padding": 0},
              "axis": {"orient": "bottom", "title": null, "values": [0, 16, 32, 48, 64, 80, 96, 112, 128, 144, 160, 176, 192], "labelExpr": "['1 May 2014','5 May 16:00','8 May 08:00','13 May 00:00','15 May 16:00','20 May 08:00','23 May 00:00','27 May 20:00','30 May 12:00','4 Jun 04:00','6 Jun 20:00','11 Jun 12:00','16 Jun 04:00'][round(datum.value / 16)]", "tickSize": 4, "labelAlign": "left", "labelBaseline": "top", "labelPadding": 1, "labelOffset": -1, "labelOverlap": false, "labelFlush": false, "labelBound": false}}
          }
        },
        {
          "data": {"name": "macd"},
          "mark": {"type": "bar", "size": 3, "color": "#6e6e6e"},
          "encoding": {
            "x": {"field": "i", "type": "quantitative", "scale": {"domain": [-0.625, 232.125], "nice": false, "zero": false, "padding": 0},
              "axis": {"orient": "bottom", "title": null, "values": [0, 16, 32, 48, 64, 80, 96, 112, 128, 144, 160, 176, 192], "labelExpr": "['1 May 2014','5 May 16:00','8 May 08:00','13 May 00:00','15 May 16:00','20 May 08:00','23 May 00:00','27 May 20:00','30 May 12:00','4 Jun 04:00','6 Jun 20:00','11 Jun 12:00','16 Jun 04:00'][round(datum.value / 16)]", "tickSize": 4, "labelAlign": "left", "labelBaseline": "top", "labelPadding": 1, "labelOffset": -1, "labelOverlap": false, "labelFlush": false, "labelBound": false}},
            "y": {"field": "m", "type": "quantitative", "scale": {"domain": [-21.19, 14.427], "nice": false, "zero": false},
              "axis": {"orient": "right", "title": null, "values": [14.427, 0, -21.19], "labelExpr": "datum.value == 0 ? '0.00' : (datum.value > 0 ? '14.427' : '-21.19')", "tickSize": 3, "labelPadding": 2, "labelFlush": true, "labelOverlap": false}},
            "y2": {"datum": 0}
          }
        },
        {
          "data": {"name": "signal"},
          "mark": {"type": "line", "color": "#ff0000", "strokeWidth": 1, "strokeDash": [2, 2]},
          "encoding": {
            "x": {"field": "i", "type": "quantitative", "scale": {"domain": [-0.625, 232.125], "nice": false, "zero": false, "padding": 0},
              "axis": {"orient": "bottom", "title": null, "values": [0, 16, 32, 48, 64, 80, 96, 112, 128, 144, 160, 176, 192], "labelExpr": "['1 May 2014','5 May 16:00','8 May 08:00','13 May 00:00','15 May 16:00','20 May 08:00','23 May 00:00','27 May 20:00','30 May 12:00','4 Jun 04:00','6 Jun 20:00','11 Jun 12:00','16 Jun 04:00'][round(datum.value / 16)]", "tickSize": 4, "labelAlign": "left", "labelBaseline": "top", "labelPadding": 1, "labelOffset": -1, "labelOverlap": false, "labelFlush": false, "labelBound": false}},
            "y": {"field": "s", "type": "quantitative", "scale": {"domain": [-21.19, 14.427], "nice": false, "zero": false},
              "axis": {"orient": "right", "title": null, "values": [14.427, 0, -21.19], "labelExpr": "datum.value == 0 ? '0.00' : (datum.value > 0 ? '14.427' : '-21.19')", "tickSize": 3, "labelPadding": 2, "labelFlush": true, "labelOverlap": false}}
          }
        },
        {
          "data": {"values": [{"t": "MACD(5,34,5) 1.446 1.616", "i": 0.875, "s": 11.0}, {"t": "MT4 TeleTrade, © 2001-2014, MetaQuotes Software Corp.", "i": 0.875, "s": -17.7}]},
          "mark": {"type": "text", "color": "#000000", "align": "left", "baseline": "middle", "fontSize": 9},
          "encoding": {
            "x": {"field": "i", "type": "quantitative", "scale": {"domain": [-0.625, 232.125], "nice": false, "zero": false, "padding": 0},
              "axis": {"orient": "bottom", "title": null, "values": [0, 16, 32, 48, 64, 80, 96, 112, 128, 144, 160, 176, 192], "labelExpr": "['1 May 2014','5 May 16:00','8 May 08:00','13 May 00:00','15 May 16:00','20 May 08:00','23 May 00:00','27 May 20:00','30 May 12:00','4 Jun 04:00','6 Jun 20:00','11 Jun 12:00','16 Jun 04:00'][round(datum.value / 16)]", "tickSize": 4, "labelAlign": "left", "labelBaseline": "top", "labelPadding": 1, "labelOffset": -1, "labelOverlap": false, "labelFlush": false, "labelBound": false}},
            "y": {"field": "s", "type": "quantitative", "scale": {"domain": [-21.19, 14.427], "nice": false, "zero": false},
              "axis": {"orient": "right", "title": null, "values": [14.427, 0, -21.19], "labelExpr": "datum.value == 0 ? '0.00' : (datum.value > 0 ? '14.427' : '-21.19')", "tickSize": 3, "labelPadding": 2, "labelFlush": true, "labelOverlap": false}},
            "text": {"field": "t"}
          }
        }
      ]
    }
  ],
  "resolve": {"scale": {"x": "independent", "y": "independent"}}
}
